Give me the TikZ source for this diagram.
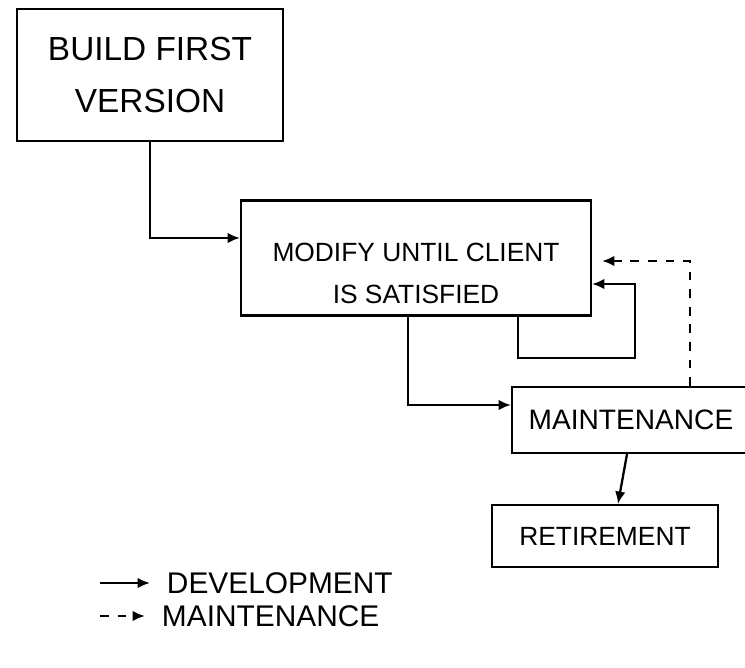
\documentclass[tikz,border=0pt]{standalone}
\usepackage{fontspec}
\setmainfont{Liberation Sans}
\usetikzlibrary{arrows.meta,positioning,calc}

\begin{document}
\begin{tikzpicture}[x=0.02cm,y=-0.02cm,line width=1.3pt,
  stage/.style={draw,rectangle,align=center,inner sep=0pt},
  dev/.style={-{Latex[length=7pt,width=6pt]}},
  mnt/.style={dev,dashed,dash pattern=on 5pt off 5pt}]
\clip (0,0) rectangle (745,668);
\node[stage,minimum width=5.32cm,minimum height=2.64cm,font=\fontsize{19}{30}\selectfont] (build) at (150,75) {BUILD FIRST\\VERSION};
\node[stage,minimum width=7.0cm,minimum height=2.3cm,font=\fontsize{15}{24}\selectfont] (modify) at (416,258) {\rule{0pt}{1cm}MODIFY UNTIL CLIENT\\IS SATISFIED};
\node[stage,minimum width=4.96cm,minimum height=1.32cm,font=\fontsize{16}{20}\selectfont] (maint) at (636,420) {MAINTENANCE\hspace*{0.2cm}};
\node[stage,minimum width=4.52cm,minimum height=1.24cm,font=\fontsize{15}{20}\selectfont] (retire) at (605,536) {RETIREMENT};
\coordinate (loop) at (635,358);
% key
\coordinate (devstart) at (100,583);
\coordinate (mntstart) at (100,616);
\node[right=1.2cm of devstart,font=\fontsize{17}{20}\selectfont] (devkey) {DEVELOPMENT};
\node[right=1.1cm of mntstart,font=\fontsize{17}{20}\selectfont] (mntkey) {MAINTENANCE};

\draw[dev] (build.south) |- ([yshift=0.4cm]modify.west);
\draw[dev] ([xshift=2.04cm]modify.south) |- (loop) |- ([yshift=-0.52cm]modify.east);
\draw[dev] ([xshift=-0.16cm]modify.south) |- ([yshift=0.3cm]maint.west);
\draw[mnt,shorten >=0.2cm] ([xshift=1.08cm]maint.north) |- ([yshift=-0.06cm]modify.east);
\draw[dev] ([xshift=-0.18cm]maint.south) -- ([xshift=0.26cm]retire.north);
\draw[dev,shorten >=0.2cm] (devstart) -- (devkey.west);
\draw[mnt,shorten >=0.2cm] (mntstart) -- (mntkey.west);
\end{tikzpicture}
\end{document}
